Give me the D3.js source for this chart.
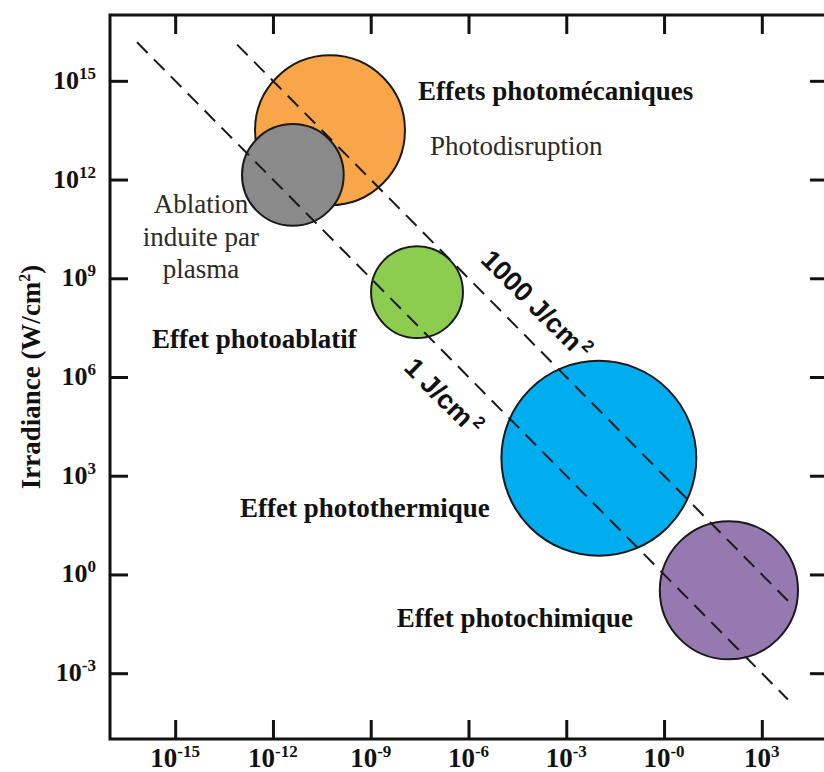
<!DOCTYPE html>
<html>
<head>
<meta charset="utf-8">
<script src="https://cdn.jsdelivr.net/npm/d3@7"></script>
<style>
  body { margin: 0; background: #fff; }
  .serif { font-family: 'Liberation Serif', 'Times New Roman', serif; fill: #111; }
  .sans { font-family: 'Liberation Sans', Arial, sans-serif; fill: #111; font-weight: bold; }
</style>
</head>
<body>
<svg width="824" height="772"></svg>
<script>
// log10 exponents for the tick positions and their labels
var xTickExp = [-15, -12, -9, -6, -3, 0, 3];
var xTickLabels = ['-15', '-12', '-9', '-6', '-3', '-0', '3'];
var yTickExp = [15, 12, 9, 6, 3, 0, -3];
var yTickLabels = ['15', '12', '9', '6', '3', '0', '-3'];

// regimes: exposure time (log s), irradiance (log W/cm2), radius in decades
var regimeNames = ['photomecanique', 'plasma', 'photoablatif', 'photothermique', 'photochimique'];
var regimeLogT = [-10.25, -11.39, -7.58, -2.0, 1.99];
var regimeLogI = [13.5, 12.14, 8.58, 3.53, -0.48];
var regimeRadius = [2.3, 1.56, 1.41, 2.99, 2.12];
var regimeColors = ['#F9A54A', '#8A8A8A', '#8CCC4F', '#00ADEF', '#9679B0'];

// iso-fluence lines (J/cm2) with the time range they cover (log s)
var fluences = [1, 1000];
var fluenceLogTStart = [-16.17, -13.1];
var fluenceLogTEnd = [3.8, 3.8];
var fluenceLabels = ['1 J/cm', '1000 J/cm'];
var fluenceLabelLogT = [-8.02, -5.66];
var fluenceLabelLogI = [6.24, 9.52];

// text annotations, anchored in data space
var notes = [
    {text: 'Effets photomécaniques', logT: -7.55, logI: 14.42, bold: true, anchor: 'start'},
    {text: 'Photodisruption', logT: -7.18, logI: 12.74, bold: false, anchor: 'start'},
    {text: 'Ablation', logT: -14.21, logI: 10.98, bold: false, anchor: 'middle'},
    {text: 'induite par', logT: -14.21, logI: 9.98, bold: false, anchor: 'middle'},
    {text: 'plasma', logT: -14.21, logI: 9.0, bold: false, anchor: 'middle'},
    {text: 'Effet photoablatif', logT: -15.71, logI: 6.88, bold: true, anchor: 'start'},
    {text: 'Effet photothermique', logT: -13.01, logI: 1.74, bold: true, anchor: 'start'},
    {text: 'Effet photochimique', logT: -8.2, logI: -1.6, bold: true, anchor: 'start'}
];

var svg = d3.select('svg');
var plot = {l: 110, r: 827, t: 15, b: 739};

var xScale = d3.scaleLog().domain([1e-17, 1e5]).range([plot.l, plot.r]);
var yScale = d3.scaleLog().domain([1e-5, 1e17]).range([plot.b, plot.t]);
var pow = function(e) { return Math.pow(10, e); };

// bubbles
var regimes = regimeNames.map(function(n, i) {
    return {name: n, t: pow(regimeLogT[i]), I: pow(regimeLogI[i]), r: regimeRadius[i], color: regimeColors[i]};
});

svg.append('g').selectAll('circle')
    .data(regimes)
    .enter()
    .append('circle')
    .attr('cx', d => xScale(d.t))
    .attr('cy', d => yScale(d.I))
    .attr('r', d => xScale(d.t * pow(d.r)) - xScale(d.t))
    .style('fill', d => d.color)
    .style('stroke', '#1a1a1a')
    .style('stroke-width', 2);

// dashed iso-fluence lines: I = F / t
var line = d3.line()
    .x(d => xScale(d[0]))
    .y(d => yScale(d[1]));

fluences.forEach(function(F, i) {
    var t0 = pow(fluenceLogTStart[i]), t1 = pow(fluenceLogTEnd[i]);
    svg.append('path')
        .datum([[t0, F / t0], [t1, F / t1]])
        .attr('d', line)
        .style('fill', 'none')
        .style('stroke', '#1a1a1a')
        .style('stroke-width', 2)
        .style('stroke-dasharray', '15,9');

    var lbl = svg.append('text')
        .attr('class', 'sans')
        .attr('transform', 'translate(' + [xScale(pow(fluenceLabelLogT[i])), yScale(pow(fluenceLabelLogI[i]))] + ') rotate(45)')
        .style('font-size', '27px')
        .text(fluenceLabels[i]);
    lbl.append('tspan')
        .attr('dx', 3)
        .attr('dy', -11)
        .style('font-size', '17px')
        .text('2');
});

// frame
svg.append('rect')
    .attr('x', plot.l)
    .attr('y', plot.t)
    .attr('width', plot.r - plot.l)
    .attr('height', plot.b - plot.t)
    .style('fill', 'none')
    .style('stroke', '#111')
    .style('stroke-width', 3);

// inward ticks on all four sides
var xTicks = xTickExp.map(pow);
var yTicks = yTickExp.map(pow);

var axes = [
    {axis: d3.axisBottom(xScale).tickValues(xTicks).tickSize(-19), tr: [0, plot.b]},
    {axis: d3.axisTop(xScale).tickValues(xTicks).tickSize(-19), tr: [0, plot.t]},
    {axis: d3.axisLeft(yScale).tickValues(yTicks).tickSize(-18), tr: [plot.l, 0]},
    {axis: d3.axisRight(yScale).tickValues(yTicks).tickSize(-17), tr: [plot.r, 0]}
];
axes.forEach(function(a) {
    var g = svg.append('g')
        .attr('transform', 'translate(' + a.tr + ')')
        .call(a.axis.tickFormat(''));
    g.select('.domain').remove();
    g.selectAll('.tick line').style('stroke', '#111').style('stroke-width', 3);
});

// tick labels with superscript exponents
xTicks.forEach(function(v, i) {
    var t = svg.append('text')
        .attr('class', 'serif')
        .attr('x', xScale(v))
        .attr('y', 767)
        .attr('text-anchor', 'middle')
        .style('font-size', '27px')
        .style('font-weight', 'bold')
        .text('10');
    t.append('tspan')
        .attr('dy', -10)
        .style('font-size', '17px')
        .text(xTickLabels[i]);
});

yTicks.forEach(function(v, i) {
    var t = svg.append('text')
        .attr('class', 'serif')
        .attr('x', plot.l - 14)
        .attr('y', yScale(v) + 8)
        .attr('text-anchor', 'end')
        .style('font-size', '26px')
        .style('font-weight', 'bold')
        .text('10');
    t.append('tspan')
        .attr('dy', -10)
        .style('font-size', '17px')
        .text(yTickLabels[i]);
});

// y axis title
var yTitle = svg.append('text')
    .attr('class', 'serif')
    .attr('transform', 'translate(40,377) rotate(-90)')
    .attr('text-anchor', 'middle')
    .style('font-size', '27px')
    .style('font-weight', 'bold')
    .text('Irradiance (W/cm');
yTitle.append('tspan').attr('dy', -10).style('font-size', '16px').text('2');
yTitle.append('tspan').attr('dy', 10).text(')');

// annotations
svg.append('g').selectAll('text')
    .data(notes)
    .enter()
    .append('text')
    .attr('class', 'serif')
    .attr('x', d => xScale(pow(d.logT)))
    .attr('y', d => yScale(pow(d.logI)))
    .attr('text-anchor', d => d.anchor)
    .style('font-size', '27px')
    .style('font-weight', d => d.bold ? 'bold' : 'normal')
    .style('fill', d => d.bold ? '#111' : '#2a2a2a')
    .text(d => d.text);
</script>
</body>
</html>
